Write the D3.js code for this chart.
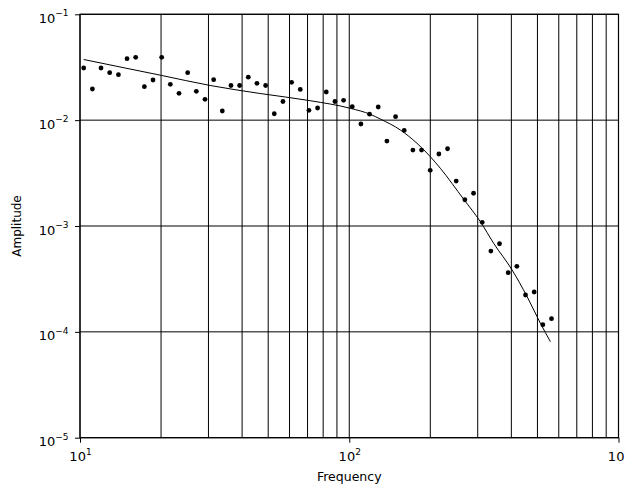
<!DOCTYPE html>
<html>
<head>
<meta charset="utf-8">
<title>amplitude spectrum</title>
<script src="https://d3js.org/d3.v7.min.js"></script>
<style>
	body { margin: 0; background: #fff; }
	svg text { font-family: 'DejaVu Sans', sans-serif; fill: #000; }
</style>
</head>
<body>
<script>
// measured points
var freq = [10.32, 11.12, 11.97, 12.89, 13.89, 14.95, 16.10, 17.34, 18.67, 20.11,
	21.65, 23.32, 25.11, 27.04, 29.12, 31.36, 33.77, 36.37, 39.16, 42.17,
	45.42, 48.91, 52.67, 56.72, 61.08, 65.78, 70.84, 76.28, 82.15, 88.47,
	95.27, 102.59, 110.48, 118.98, 128.13, 137.98, 148.59, 160.02, 172.33, 185.58,
	199.85, 215.22, 231.77, 249.60, 268.79, 289.46, 311.72, 335.69, 361.51, 389.31,
	419.25, 451.49, 486.21, 523.60, 563.86];
var amp = [0.0311, 0.0197, 0.0311, 0.02808, 0.02688, 0.03806, 0.03925, 0.0207, 0.02394, 0.03925,
	0.02182, 0.01794, 0.02808, 0.01874, 0.01574, 0.0241, 0.0122, 0.02126, 0.02126, 0.02545,
	0.02229, 0.02126, 0.0115, 0.015, 0.02278, 0.01949, 0.01239, 0.01302, 0.01845, 0.015,
	0.0154, 0.0134, 0.0092, 0.01138, 0.01331, 0.00635, 0.01078, 0.00799, 0.00522, 0.00522,
	0.00336, 0.00479, 0.00537, 0.00266, 0.00177, 0.00204, 0.001084, 0.00058, 0.00068, 0.000362,
	0.000416, 0.000223, 0.000238, 0.0001168, 0.0001331];

// fitted curve
var fitFreq = [10.32, 14.70, 20.06, 30.43, 46.68, 71.62, 100.9, 119.7, 130.4, 154.8,
	178.5, 200.0, 217.9, 266.0, 306.9, 343.9, 402.6, 457.7, 512.9, 558.6];
var fitAmp = [0.03741, 0.0311, 0.02647, 0.02126, 0.01785, 0.01527, 0.01294, 0.01136, 0.01025, 0.00807,
	0.00604, 0.00452, 0.00351, 0.00179, 0.001098, 0.000686, 0.000384, 0.000215, 0.0001204, 0.0000807];

var xTickPowers = [1, 2, 3];
var yTickPowers = [-5, -4, -3, -2, -1];

var w = 625, h = 489;
var plotL = 80, plotR = 618.5, plotT = 14.3, plotB = 437.7;

var svg = d3.select('body').append('svg')
	.attr('width', w)
	.attr('height', h);

var x = d3.scaleLog().domain([10, 1000]).range([plotL, plotR]);
var y = d3.scaleLog().domain([1e-5, 1e-1]).range([plotB, plotT]);

// grid
svg.append('g')
	.selectAll('line')
	.data(x.ticks())
	.enter().append('line')
	.attr('x1', d => x(d)).attr('x2', d => x(d))
	.attr('y1', plotT).attr('y2', plotB)
	.attr('stroke', '#000').attr('stroke-width', 1);

svg.append('g')
	.selectAll('line')
	.data(yTickPowers.map(p => Math.pow(10, p)))
	.enter().append('line')
	.attr('x1', plotL).attr('x2', plotR)
	.attr('y1', d => y(d)).attr('y2', d => y(d))
	.attr('stroke', '#000').attr('stroke-width', 1);

// frame
svg.append('rect')
	.attr('x', plotL).attr('y', plotT)
	.attr('width', plotR - plotL).attr('height', plotB - plotT)
	.attr('fill', 'none').attr('stroke', '#000').attr('stroke-width', 1.2);

// axes
var xAxis = svg.append('g')
	.attr('transform', 'translate(0,' + plotB + ')')
	.call(d3.axisBottom(x)
		.tickValues(xTickPowers.map(p => Math.pow(10, p)))
		.tickSize(5)
		.tickFormat(() => ''));
xAxis.select('.domain').remove();
xAxis.selectAll('.tick line').attr('stroke', '#000');
xAxis.selectAll('.tick').each(function (d, i) {
	var t = d3.select(this).append('text')
		.attr('y', 23.5)
		.attr('text-anchor', 'middle')
		.style('font-size', '13px');
	t.append('tspan').text('10');
	t.append('tspan').attr('dy', -6.5).style('font-size', '9px').text(String(xTickPowers[i]).replace('-', '\u2212'));
});

var yAxis = svg.append('g')
	.attr('transform', 'translate(' + plotL + ',0)')
	.call(d3.axisLeft(y)
		.tickValues(yTickPowers.map(p => Math.pow(10, p)))
		.tickSize(5)
		.tickFormat(() => ''));
yAxis.select('.domain').remove();
yAxis.selectAll('.tick line').attr('stroke', '#000');
yAxis.selectAll('.tick').each(function (d, i) {
	var t = d3.select(this).append('text')
		.attr('x', -11.5)
		.attr('y', 8)
		.attr('text-anchor', 'end')
		.style('font-size', '13px');
	t.append('tspan').text('10');
	t.append('tspan').attr('dy', -6.5).style('font-size', '9px').text(String(yTickPowers[i]).replace('-', '\u2212'));
});

// fitted line
var fit = fitFreq.map((f, i) => [f, fitAmp[i]]);
svg.append('path')
	.datum(fit)
	.attr('fill', 'none')
	.attr('stroke', '#000')
	.attr('stroke-width', 1)
	.attr('d', d3.line()
		.x(d => x(d[0]))
		.y(d => y(d[1]))
		.curve(d3.curveMonotoneX));

// points
svg.append('g')
	.selectAll('circle')
	.data(freq)
	.enter().append('circle')
	.attr('cx', d => x(d))
	.attr('cy', (d, i) => y(amp[i]))
	.attr('r', 2.4)
	.attr('fill', '#000');

// labels
svg.append('text')
	.attr('x', (plotL + plotR) / 2)
	.attr('y', 481)
	.attr('text-anchor', 'middle')
	.style('font-size', '12.5px')
	.text('Frequency');

svg.append('text')
	.attr('transform', 'translate(21,' + ((plotT + plotB) / 2) + ') rotate(-90)')
	.attr('text-anchor', 'middle')
	.style('font-size', '12px')
	.text('Amplitude');
</script>
</body>
</html>
